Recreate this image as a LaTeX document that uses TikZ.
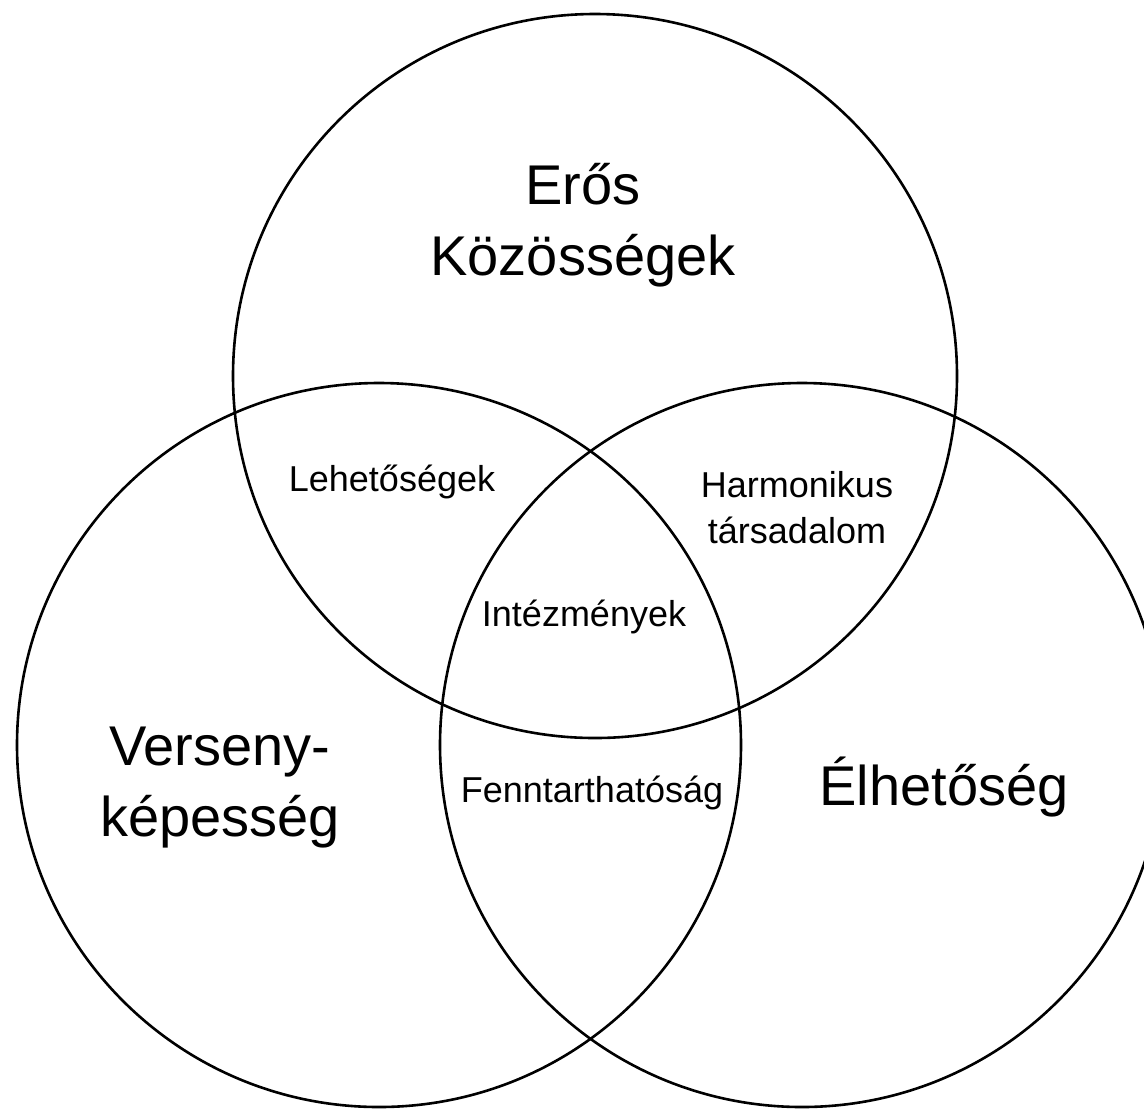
\documentclass[tikz,border=0pt]{standalone}
\usepackage{fontspec}
\setmainfont{Liberation Sans}
\usepackage{tikz}

\tikzset{
  set circle/.style={draw, line width=1.3pt},
  big label/.style={align=center, inner sep=0pt, font=\fontsize{28}{35.5}\selectfont},
  small label/.style={align=center, inner sep=0pt, font=\fontsize{18}{23}\selectfont}
}

\begin{document}
\begin{tikzpicture}[x=0.5pt,y=-0.5pt]
\useasboundingbox (0,0) rectangle (1144,1110);
% centres of the three sets
\coordinate (kozossegek) at (595,376);
\coordinate (verseny) at (379,745);
\coordinate (elhetoseg) at (802,745);
\foreach \set in {kozossegek,verseny,elhetoseg}
  \draw[set circle] (\set) circle[radius=181pt];
% set names
\node[big label] (erosk) at (583,225) {Erős\\Közösségek};
\node[big label] (versenyk) at (220,788) {Verseny-\\képesség};
\node[big label] (elhet) at (944,787) {Élhetőség};
% overlaps
\node[small label] (lehet) at (392,482) {Lehetőségek};
\node[small label] (harm) at (797,508) {Harmonikus\\társadalom};
\node[small label] (intez) at (584,617) {Intézmények};
\node[small label] (fennt) at (592,793) {Fenntarthatóság};
\end{tikzpicture}
\end{document}
